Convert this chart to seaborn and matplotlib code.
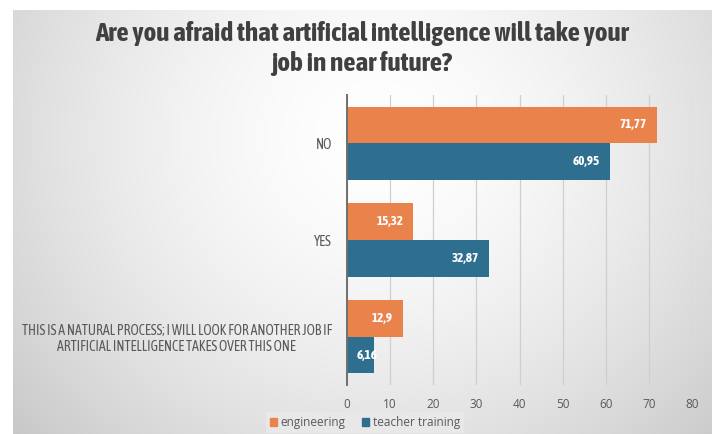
import numpy as np
import pandas as pd
import matplotlib
matplotlib.use("Agg")
import matplotlib.pyplot as plt
import seaborn as sns

# Survey answers and shares (%) by study programme
answers = [
    "NO",
    "YES",
    "THIS IS A NATURAL PROCESS; I WILL LOOK FOR ANOTHER JOB IF\nARTIFICIAL INTELLIGENCE TAKES OVER THIS ONE",
]
groups = ["engineering", "teacher training"]
engineering = [71.77, 15.32, 12.9]
teacher_training = [60.95, 32.87, 6.16]
x_ticks = [0, 10, 20, 30, 40, 50, 60, 70, 80]

palette = {"engineering": "#E9834B", "teacher training": "#2E6F8F"}

df = pd.DataFrame({
    "answer": answers * 2,
    "group": [groups[0]] * 3 + [groups[1]] * 3,
    "share": engineering + teacher_training,
})

sns.set_theme(style="white")
narrow = ["Asap Condensed", "DejaVu Sans"]
plt.rcParams["font.family"] = narrow

W, H = 712, 434
fig = plt.figure(figsize=(W / 100, H / 100), dpi=100)
fig.patch.set_facecolor("white")

# Soft radial background panel
bg = fig.add_axes([13 / W, 0, 1 - 13 / W, 1 - 10 / H])
bg.set_axis_off()
gx, gy = np.meshgrid(np.linspace(0, 1, 400), np.linspace(0, 1, 300))
r = np.sqrt(((gx - 0.52) / 0.62) ** 2 + ((gy - 0.30) / 0.95) ** 2)
shade = np.clip(1.0 - 0.18 * r ** 1.6, 0.77, 1.0)
bg.imshow(np.dstack([shade] * 3), aspect="auto", extent=[0, 1, 1, 0], zorder=0)
bg.set_xlim(0, 1)
bg.set_ylim(1, 0)

ax = fig.add_axes([347 / W, (H - 385) / H, (692 - 347) / W, 290 / H])
ax.set_facecolor("none")

sns.barplot(
    data=df, y="answer", x="share", hue="group", order=answers,
    hue_order=groups, palette=palette, orient="h", width=0.76,
    saturation=1, edgecolor="none", ax=ax, legend=False, zorder=3,
)

ax.set_xlim(0, 80)
ax.set_xticks(x_ticks)
ax.set_xticklabels([str(t) for t in x_ticks], fontfamily="Open Sans",
                   fontsize=8.5, color="#595959")
ax.grid(axis="x", color="#cfcfcf", linewidth=0.9, zorder=0)
ax.set_axisbelow(True)
for side in ["top", "right", "bottom"]:
    ax.spines[side].set_visible(False)
ax.spines["left"].set_color("#6f6f6f")
ax.spines["left"].set_linewidth(1.4)
ax.spines["left"].set_zorder(4)
ax.tick_params(axis="both", length=0)
ax.tick_params(axis="x", pad=9)
ax.tick_params(axis="y", pad=11)
ax.set_xlabel("")
ax.set_ylabel("")
for lab in ax.get_yticklabels():
    lab.set_fontsize(10)
    lab.set_color("#595959")
    lab.set_multialignment("center")

# Value labels inside the bar ends (short bars get the label from their start)
px_per_unit = (692 - 347) / 80
for container in ax.containers:
    for bar, v in zip(container.patches, container.datavalues):
        yc = bar.get_y() + bar.get_height() / 2
        label = f"{v:g}".replace(".", ",")
        if v * px_per_unit < 40:
            xy, off, ha = (bar.get_x(), yc), (7, 0), "left"
        else:
            xy, off, ha = (bar.get_x() + bar.get_width(), yc), (-7, 0), "right"
        ax.annotate(label, xy=xy, xytext=off, textcoords="offset points",
                    ha=ha, va="center", color="white",
                    fontsize=9.5, fontweight="bold", zorder=5)

fig.text(362 / W, 1 - 33 / H, "Are you afraid that artificial intelligence will take your",
         ha="center", va="center", fontsize=19.5, fontweight="bold", color="#404040")
fig.text(362 / W, 1 - 63 / H, "job in near future?",
         ha="center", va="center", fontsize=19.5, fontweight="bold", color="#404040")

handles = [plt.Rectangle((0, 0), 1, 1, color=palette[g]) for g in groups]
leg = fig.legend(handles, groups, loc="lower center", ncol=2,
                 bbox_to_anchor=(365 / W, -0.012), frameon=True,
                 prop={"family": "Open Sans", "size": 8.5},
                 handlelength=0.6, handleheight=0.6, handletextpad=0.3,
                 columnspacing=1.4, borderpad=0.35, fancybox=False)
leg.get_frame().set_facecolor("#e8e8e8")
leg.get_frame().set_edgecolor("none")
leg.get_frame().set_alpha(1)
for t in leg.get_texts():
    t.set_color("#595959")

fig.savefig("out.png", dpi=100)
